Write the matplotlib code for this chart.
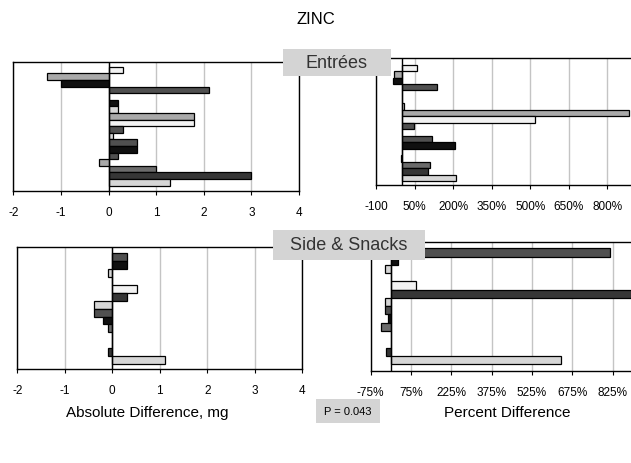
import matplotlib
matplotlib.use("Agg")
import matplotlib.pyplot as plt
from matplotlib.patches import Rectangle

plt.rcParams['font.family'] = ['Liberation Sans', 'DejaVu Sans']

# bar colours used by rows
W = '#f2f2f2'
L = '#d6d6d6'
G = '#a9a9a9'
M = '#6b6b6b'
D = '#505050'
X = '#363636'
K = '#101010'

# Entrees (top row of panels), one value per food row
entree_colors = [W, G, K, D, W, K, L, G, W, D, L, D, K, D, G, M, X, L]
entree_abs = [0.3, -1.3, -1.0, 2.1, 0, 0.2, 0.2, 1.8, 1.8, 0.3, 0.1, 0.6, 0.6, 0.2, -0.2, 1.0, 3.0, 1.3]
entree_pct = [58, -31, -35, 136, 0, 2, 10, 882, 518, 47, 3, 117, 206, 3, -3, 110, 102, 213]

# Side & Snacks (bottom row of panels)
side_colors = [D, K, L, W, W, X, L, D, K, M, W, W, X, L]
side_abs = [0.31, 0.31, -0.1, 0, 0.51, 0.31, -0.39, -0.39, -0.2, -0.1, 0, 0, -0.1, 1.11]
side_pct = [816, 27, -21, 2, 93, 950, -21, -21, -11, -36, 0, 0, -19, 632]

abs_ticks = [-2, -1, 0, 1, 2, 3, 4]
pct_ticks_top = [-100, 50, 200, 350, 500, 650, 800]
pct_labels_top = ['-100', '50%', '200%', '350%', '500%', '650%', '800%']
pct_ticks_bot = [-75, 75, 225, 375, 525, 675, 825]
pct_labels_bot = ['-75%', '75%', '225%', '375%', '525%', '675%', '825%']

FW, FH = 631, 464
fig = plt.figure(figsize=(FW / 100, FH / 100), dpi=100)


def px_axes(x0, y0, x1, y1):
    return fig.add_axes([x0 / FW, 1 - y1 / FH, (x1 - x0) / FW, (y1 - y0) / FH])


def px_box(x0, y0, x1, y1, text, size, color='#333333'):
    fig.patches.append(Rectangle((x0 / FW, 1 - y1 / FH), (x1 - x0) / FW, (y1 - y0) / FH,
                                 transform=fig.transFigure, facecolor='#d4d4d4',
                                 edgecolor='none', zorder=5))
    fig.text((x0 + x1) / 2 / FW, 1 - (y0 + y1) / 2 / FH, text, ha='center',
             va='center', fontsize=size, color=color, zorder=6)


def draw_panel(ax, vals, colors, ticks, labels, xlim, ylim):
    rows = list(range(len(vals)))
    for t in ticks:
        ax.axvline(t, color='#c4c4c4', lw=1.0, zorder=0)
    ax.barh(rows, vals, height=1.0, color=colors, edgecolor='black',
            linewidth=0.9, zorder=2)
    ax.axvline(0, color='black', lw=1.0, zorder=3)
    ax.set_xlim(xlim)
    ax.set_ylim(ylim)
    ax.set_yticks([])
    ax.set_xticks(ticks)
    ax.set_xticklabels(labels, fontsize=8.5)
    ax.tick_params(axis='x', length=3, width=0.8, direction='out', pad=8)
    for s in ax.spines.values():
        s.set_linewidth(1.0)
        s.set_color('black')


ax1 = px_axes(13.3, 63.3, 299, 191.7)
draw_panel(ax1, entree_abs, entree_colors, abs_ticks,
           [str(t) for t in abs_ticks], (-2, 4), (18.26, -1.17))

ax2 = px_axes(376, 59.3, 646, 186)
draw_panel(ax2, entree_pct, entree_colors, pct_ticks_top, pct_labels_top,
           (-100, 950), (18.1, -1.47))

ax3 = px_axes(17.3, 248.3, 302.3, 370)
draw_panel(ax3, side_abs, side_colors, abs_ticks,
           [str(t) for t in abs_ticks], (-2, 4), (14.13, -1.26))

ax4 = px_axes(370.7, 243.3, 652.9, 371.7)
draw_panel(ax4, side_pct, side_colors, pct_ticks_bot, pct_labels_bot,
           (-75, 975), (14.3, -1.23))

# titles and labels
fig.text(316 / FW, 1 - 20 / FH, 'ZINC', ha='center', va='center', fontsize=12)

px_box(282.7, 50, 391, 77.3, 'Entrées', 13)
px_box(273.3, 231, 425, 261, 'Side & Snacks', 13)

fig.text(147 / FW, 1 - 413 / FH, 'Absolute Difference, mg', ha='center',
         va='center', fontsize=11)
fig.text(507 / FW, 1 - 413 / FH, 'Percent Difference', ha='center',
         va='center', fontsize=11)
px_box(316, 400, 380, 424, 'P = 0.043', 8, color='black')

fig.savefig('out.png', dpi=100)
